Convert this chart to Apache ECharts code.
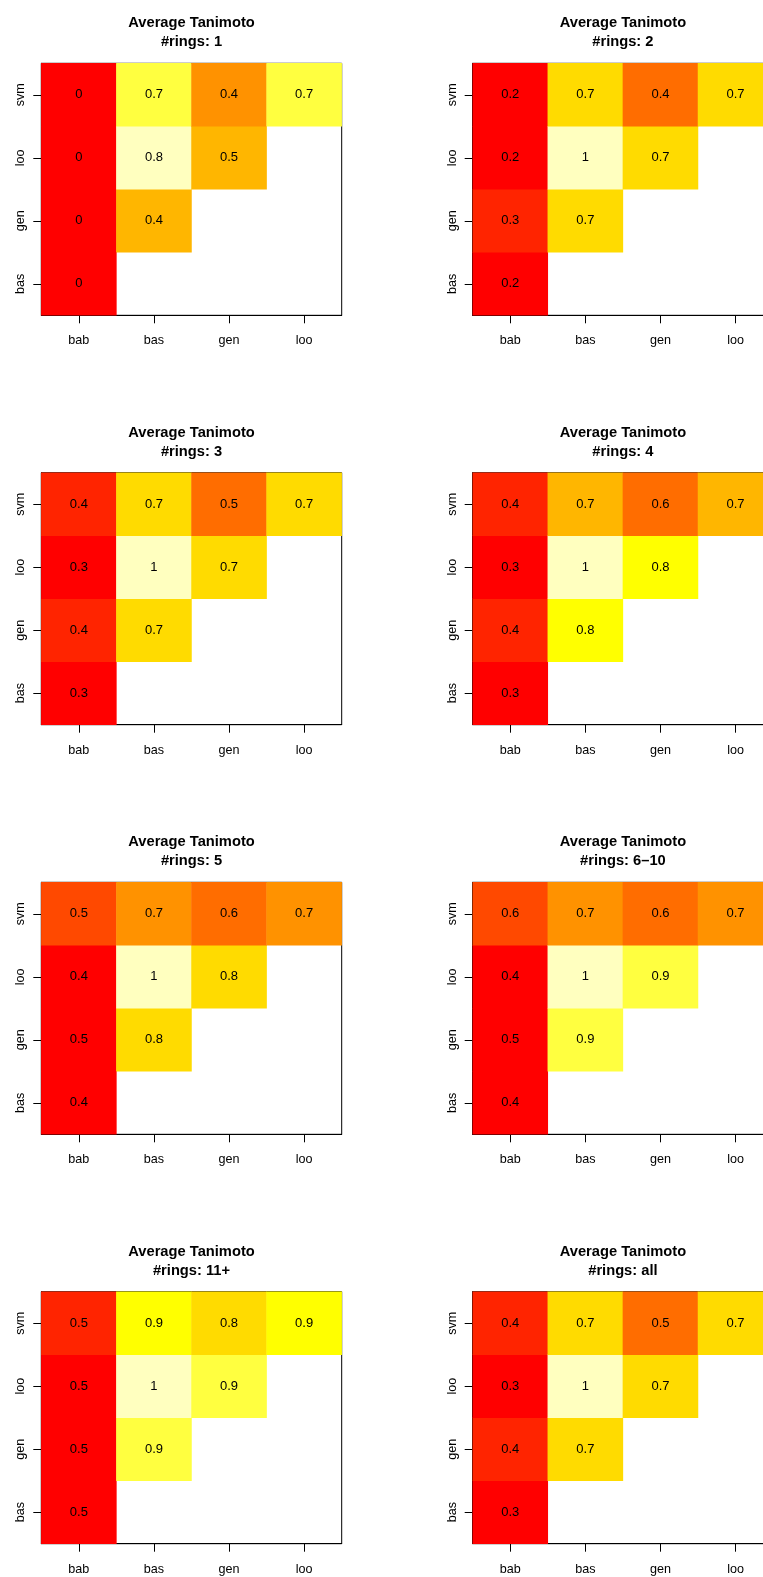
<!DOCTYPE html>
<html>
<head>
<meta charset="utf-8">
<script src="https://cdn.jsdelivr.net/npm/echarts@6/dist/echarts.min.js"></script>
<style>
  html, body { margin: 0; padding: 0; background: #fff; }
  #main { width: 763px; height: 1577px; }
</style>
</head>
<body>
<div id="main"></div>
<script>
var xCats = ['bab', 'bas', 'gen', 'loo'];
var yCats = ['bas', 'gen', 'loo', 'svm'];
var ringGroups = ['1', '2', '3', '4', '5', '6\u201310', '11+', 'all'];

// one array per column (bab, bas, gen, loo), entries for rows bas, gen, loo, svm
var rings1 = [
	[0.00, 0.00, 0.00, 0.00],
	[null, 0.42, 0.80, 0.68],
	[null, null, 0.46, 0.37],
	[null, null, null, 0.69]
];
var rings2 = [
	[0.21, 0.28, 0.18, 0.22],
	[null, 0.70, 1.00, 0.71],
	[null, null, 0.69, 0.44],
	[null, null, null, 0.72]
];
var rings3 = [
	[0.30, 0.38, 0.28, 0.40],
	[null, 0.73, 1.00, 0.74],
	[null, null, 0.72, 0.52],
	[null, null, null, 0.74]
];
var rings4 = [
	[0.30, 0.38, 0.28, 0.40],
	[null, 0.80, 1.00, 0.68],
	[null, null, 0.81, 0.56],
	[null, null, null, 0.69]
];
var rings5 = [
	[0.42, 0.46, 0.43, 0.54],
	[null, 0.79, 1.00, 0.68],
	[null, null, 0.80, 0.62],
	[null, null, null, 0.69]
];
var rings6to10 = [
	[0.42, 0.46, 0.43, 0.57],
	[null, 0.90, 1.00, 0.68],
	[null, null, 0.91, 0.62],
	[null, null, null, 0.69]
];
var rings11plus = [
	[0.47, 0.48, 0.46, 0.53],
	[null, 0.91, 1.00, 0.88],
	[null, null, 0.90, 0.82],
	[null, null, null, 0.87]
];
var ringsAll = [
	[0.29, 0.39, 0.28, 0.41],
	[null, 0.72, 1.00, 0.73],
	[null, null, 0.73, 0.53],
	[null, null, null, 0.73]
];
var panels = [rings1, rings2, rings3, rings4, rings5, rings6to10, rings11plus, ringsAll];

// heat.colors(10)
var heat = ['#FF0000', '#FF2400', '#FF4900', '#FF6D00', '#FF9200',
	'#FFB600', '#FFDB00', '#FFFF00', '#FFFF40', '#FFFFBF'];

var font = "'Liberation Sans', Arial, sans-serif";
var colLeft = [41.3, 472.7];
var rowTop = [63.3, 472.7, 882.3, 1291.7];
var boxW = 300.4, boxH = 252;

var titles = [], grids = [], xAxes = [], yAxes = [], series = [], visualMaps = [];

panels.forEach(function (m, i) {
	var left = colLeft[i % 2], top = rowTop[Math.floor(i / 2)];
	var data = [], vals = [];
	m.forEach(function (col, xi) {
		col.forEach(function (v, yi) {
			if (v !== null) {
				data.push([xi, yi, v]);
				vals.push(v);
			}
		});
	});
	// equal bins between panel min and max, like image()
	var lo = Math.min.apply(null, vals), hi = Math.max.apply(null, vals);
	var w = (hi - lo) / heat.length;
	var pieces = heat.map(function (c, k) {
		var p = { gte: lo + k * w, color: c };
		if (k < heat.length - 1) p.lt = lo + (k + 1) * w; else p.lte = hi + 1e-9;
		return p;
	});

	titles.push({
		text: 'Average Tanimoto\n#rings: ' + ringGroups[i],
		left: left + boxW / 2,
		top: top - 49.5,
		textAlign: 'center',
		padding: 0,
		textStyle: { fontFamily: font, fontSize: 14.7, fontWeight: 'bold', color: '#000', lineHeight: 19 }
	});
	grids.push({
		left: left, top: top, width: boxW, height: boxH,
		outerBoundsMode: 'none',
		show: true, borderColor: '#000', borderWidth: 1, backgroundColor: 'transparent'
	});
	xAxes.push({
		type: 'category', gridIndex: i, data: xCats,
		axisLine: { show: true, lineStyle: { color: '#000', width: 1 } },
		axisTick: { show: true, alignWithLabel: true, length: 8, lineStyle: { color: '#000' } },
		axisLabel: { color: '#000', fontFamily: font, fontSize: 12.6, margin: 19 },
		splitLine: { show: false }
	});
	yAxes.push({
		type: 'category', gridIndex: i, data: yCats,
		axisLine: { show: true, lineStyle: { color: '#000', width: 1 } },
		axisTick: { show: true, alignWithLabel: true, length: 8, lineStyle: { color: '#000' } },
		axisLabel: { color: '#000', fontFamily: font, fontSize: 12.6, rotate: 90, margin: 14 },
		splitLine: { show: false }
	});
	visualMaps.push({
		type: 'piecewise', show: false, seriesIndex: i, dimension: 2,
		pieces: pieces
	});
	series.push({
		type: 'heatmap', xAxisIndex: i, yAxisIndex: i, data: data,
		label: {
			show: true, color: '#000', fontFamily: font, fontSize: 13,
			formatter: function (p) { return String(Math.round(p.value[2] * 10) / 10); }
		},
		itemStyle: { borderWidth: 0 },
		emphasis: { disabled: true }
	});
});

var myChart = echarts.init(document.getElementById('main'), null, { renderer: 'canvas' });
myChart.setOption({
	backgroundColor: '#fff',
	animation: false,
	title: titles,
	grid: grids,
	xAxis: xAxes,
	yAxis: yAxes,
	visualMap: visualMaps,
	series: series
});
</script>
</body>
</html>
